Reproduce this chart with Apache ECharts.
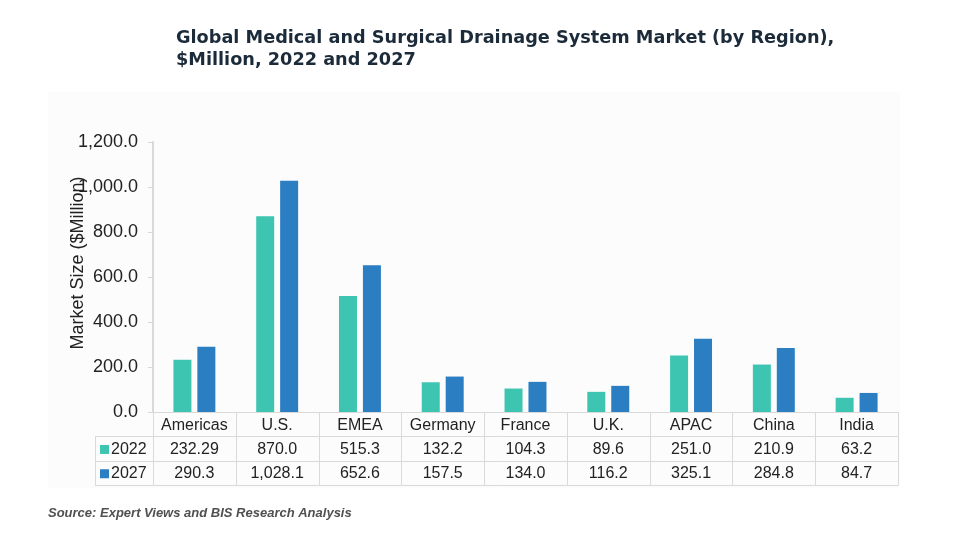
<!DOCTYPE html>
<html><head><meta charset="utf-8">
<script src="https://cdn.jsdelivr.net/npm/echarts@6/dist/echarts.min.js"></script>
<style>html,body{margin:0;padding:0;background:#fff}#c{width:957px;height:550px}</style>
</head><body><div id="c"></div>
<script>
const categories = ['Americas','U.S.','EMEA','Germany','France','U.K.','APAC','China','India'];
const seriesNames = ['2022','2027'];
const values2022 = [232.29, 870.0, 515.3, 132.2, 104.3, 89.6, 251.0, 210.9, 63.2];
const values2027 = [290.3, 1028.1, 652.6, 157.5, 134.0, 116.2, 325.1, 284.8, 84.7];
const yMin = 0, yMax = 1200, yStep = 200;
const titleText = 'Global Medical and Surgical Drainage System Market (by Region),\n$Million, 2022 and 2027';
const yAxisName = 'Market Size ($Million)';
const sourceText = 'Source: Expert Views and BIS Research Analysis';

const colors = ['#3DC5B1', '#2B7EC2'];
const lineColor = '#d9d9d9';
const textColor = '#222222';
const FONT = '"Liberation Sans", Arial, sans-serif';

const G = {left: 153, right: 59, top: 142, bottom: 138};
const W = 957, H = 550;

function fmt(v) {
  return v.toLocaleString('en-US', {minimumFractionDigits: 1, maximumFractionDigits: 2});
}

const chart = echarts.init(document.getElementById('c'), null, {renderer: 'canvas'});

const option = {
  animation: false,
  backgroundColor: '#ffffff',
  color: colors,
  title: {
    text: titleText,
    left: 171, top: 22,
    textStyle: {fontFamily: '"DejaVu Sans", sans-serif', fontWeight: 'bold', fontSize: 17.7, color: '#1c2b39', lineHeight: 22}
  },
  grid: G,
  xAxis: {
    type: 'category',
    data: categories,
    axisLine: {show: true, lineStyle: {color: lineColor, width: 1}},
    axisTick: {show: false},
    axisLabel: {show: false}
  },
  yAxis: {
    type: 'value',
    min: yMin, max: yMax, interval: yStep,
    name: yAxisName,
    nameLocation: 'middle',
    nameGap: 66,
    nameMoveOverlap: false,
    nameTextStyle: {fontFamily: FONT, fontSize: 18, color: textColor, padding: [0, 0, 0, 28]},
    axisLine: {show: true, lineStyle: {color: lineColor, width: 2}},
    axisTick: {show: true, length: 5, lineStyle: {color: lineColor}},
    splitLine: {show: false},
    axisLabel: {fontFamily: FONT, fontSize: 18, color: textColor, margin: 15,
      formatter: v => v.toLocaleString('en-US', {minimumFractionDigits: 1, maximumFractionDigits: 1})}
  },
  series: [
    {name: seriesNames[0], type: 'bar', data: values2022, barWidth: 18, barGap: '33%', itemStyle: {color: colors[0]}},
    {name: seriesNames[1], type: 'bar', data: values2027, barWidth: 18, barGap: '33%', itemStyle: {color: colors[1]}}
  ]
};
chart.setOption(option);

// Data table under the axis
const gridL = G.left, gridR = W - G.right;
const axisY = H - G.bottom;
const rowH = 24.3;
const legendLeft = 95;
const g = [];
g.push({type: 'rect', z: -10, shape: {x: 48, y: 92, width: 852, height: 396}, style: {fill: '#fcfcfc'}});
const step = (gridR - gridL) / categories.length;
for (let i = 0; i <= categories.length; i++) {
  const x = Math.round(gridL + i * step) + 0.5;
  g.push({type: 'line', shape: {x1: x, y1: axisY, x2: x, y2: axisY + 3 * rowH}, style: {stroke: lineColor, lineWidth: 1}});
}
g.push({type: 'line', shape: {x1: legendLeft + 0.5, y1: axisY + rowH, x2: legendLeft + 0.5, y2: axisY + 3 * rowH}, style: {stroke: lineColor, lineWidth: 1}});
for (let r = 1; r <= 3; r++) {
  const y = Math.round(axisY + r * rowH) + 0.5;
  g.push({type: 'line', shape: {x1: legendLeft, y1: y, x2: gridR + 0.5, y2: y}, style: {stroke: lineColor, lineWidth: 1}});
}
const rows = [categories, values2022.map(fmt), values2027.map(fmt)];
rows.forEach((row, r) => {
  row.forEach((t, i) => {
    const cx = chart.convertToPixel({xAxisIndex: 0}, categories[i]);
    g.push({type: 'text', style: {text: t, x: cx, y: axisY + (r + 0.5) * rowH + 1, align: 'center', verticalAlign: 'middle',
      font: '16px ' + FONT, fill: textColor}});
  });
});
seriesNames.forEach((n, k) => {
  const cy = axisY + (k + 1.5) * rowH + 1;
  g.push({type: 'rect', shape: {x: 100, y: cy - 4.5, width: 9, height: 9}, style: {fill: colors[k]}});
  g.push({type: 'text', style: {text: n, x: 111, y: cy, align: 'left', verticalAlign: 'middle', font: '16px ' + FONT, fill: textColor}});
});
g.push({type: 'text', style: {text: sourceText, x: 48, y: 513, align: 'left', verticalAlign: 'middle',
  font: 'italic bold 13px ' + FONT, fill: '#505050'}});
chart.setOption({graphic: {elements: g}});
</script>
</body></html>
